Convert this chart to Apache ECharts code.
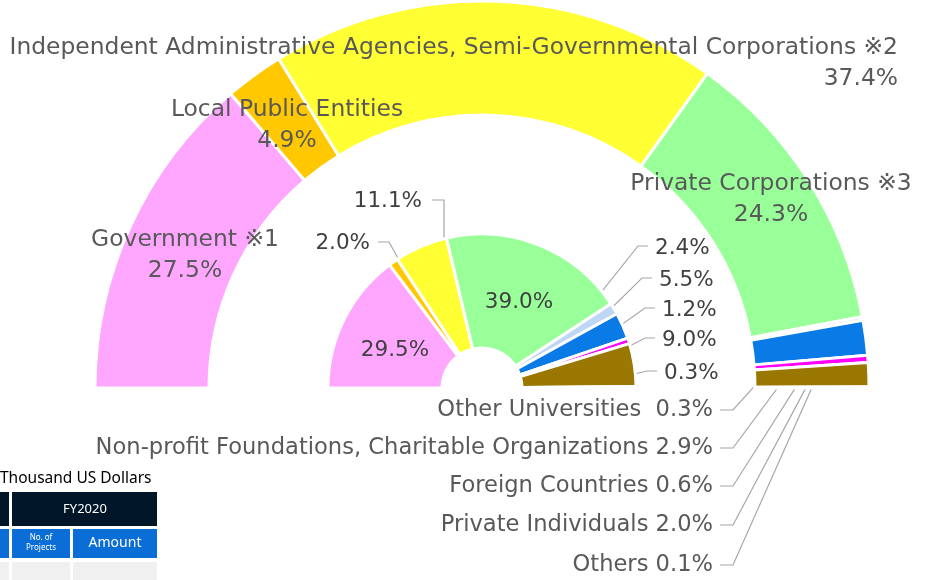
<!DOCTYPE html>
<html>
<head>
<meta charset="utf-8">
<script src="https://cdn.jsdelivr.net/npm/echarts@6/dist/echarts.min.js"></script>
<style>
  html, body { margin: 0; padding: 0; background: #fff; }
  #main { width: 928px; height: 580px; }
</style>
</head>
<body>
<div id="main"></div>
<script>
// slice names (outer ring = share of amount, inner pie = share of projects)
var sliceNames = [
    'Government ※1',
    'Local Public Entities',
    'Independent Administrative Agencies, Semi-Governmental Corporations ※2',
    'Private Corporations ※3',
    'Other Universities ',
    'Non-profit Foundations, Charitable Organizations',
    'Foreign Countries',
    'Private Individuals',
    'Others'
];
var outerValues = [27.5, 4.9, 37.4, 24.3, 0.3, 2.9, 0.6, 2.0, 0.1];
var innerValues = [29.5, 2.0, 11.1, 39.0, 2.4, 5.5, 1.2, 9.0, 0.3];
var sliceColors = ['#FFA6FF', '#FFC800', '#FFFF33', '#99FF99', '#BDD7F5', '#0A7AE6', '#FF00FF', '#997700', '#7F7F7F'];

// layout
var CX = 482, CY = 388;
var FONT = '"DejaVu Sans", "Noto Sans CJK JP", sans-serif';

// label anchors: [x, y, align]
var outerLabelPos = [
    [185, 255, 'center'], [287, 125, 'center'], [898, 63, 'right'], [771, 199, 'center'],
    [713, 410, 'right'], [713, 448, 'right'], [713, 486, 'right'], [713, 525, 'right'], [713, 565, 'right']
];
var innerLabelPos = [
    [395, 350, 'center'], [370, 243, 'right'], [422, 201, 'right'], [519, 302, 'center'],
    [655, 248, 'left'], [659, 280, 'left'], [662, 310, 'left'], [662, 340, 'left'], [664, 373, 'left']
];

// point in the middle of slice i, at radius r
function slicePoint(values, i, r) {
    var total = 0, before = 0;
    for (var k = 0; k < values.length; k++) {
        total += values[k];
        if (k < i) before += values[k];
    }
    var a = Math.PI * (before + values[i] / 2) / total;
    return [CX - r * Math.cos(a), CY - r * Math.sin(a)];
}

function pct(v) {
    return v.toFixed(1) + '%';
}

var myChart = echarts.init(document.getElementById('main'));

var outerData = [];
var innerData = [];
for (var i = 0; i < sliceNames.length; i++) {
    outerData.push({
        name: sliceNames[i],
        value: outerValues[i],
        itemStyle: { color: sliceColors[i] },
        label: { position: i < 4 ? 'inside' : 'outside', fontSize: i < 4 ? 23.4 : 22.6 },
        labelLine: { show: i >= 4 }
    });
    innerData.push({
        name: sliceNames[i],
        value: innerValues[i],
        itemStyle: { color: sliceColors[i] },
        label: { position: (i == 0 || i == 3) ? 'inside' : 'outside' },
        labelLine: { show: !(i == 0 || i == 3) }
    });
}

var option = {
    animation: false,
    series: [{
            name: 'Amount',
            type: 'pie',
            silent: true,
            center: [CX, CY],
            radius: [273, 387],
            startAngle: 180,
            endAngle: 0,
            itemStyle: { borderColor: '#fff', borderWidth: 3 },
            label: {
                show: true,
                overflow: 'none',
                fontFamily: FONT,
                fontSize: 23.4,
                lineHeight: 31,
                color: '#595959',
                formatter: function(p) {
                    if (p.dataIndex < 4) return p.name + '\n' + pct(p.value);
                    return p.name + ' ' + pct(p.value);
                }
            },
            labelLine: { lineStyle: { color: '#A6A6A6', width: 1.2 } },
            labelLayout: function(p) {
                var pos = outerLabelPos[p.dataIndex];
                var res = { x: pos[0], y: pos[1], align: pos[2], verticalAlign: 'middle' };
                if (p.dataIndex >= 4) {
                    res.labelLinePoints = [slicePoint(outerValues, p.dataIndex, 330), [733, pos[1]], [720, pos[1]]];
                }
                return res;
            },
            data: outerData
        },
        {
            name: 'Projects',
            type: 'pie',
            silent: true,
            center: [CX, CY],
            radius: [40, 154],
            startAngle: 180,
            endAngle: 0,
            itemStyle: { borderColor: '#fff', borderWidth: 3 },
            label: {
                show: true,
                overflow: 'none',
                fontFamily: FONT,
                fontSize: 21.5,
                color: '#404040',
                formatter: function(p) {
                    return pct(p.value);
                }
            },
            labelLine: { lineStyle: { color: '#A6A6A6', width: 1.2 } },
            labelLayout: function(p) {
                var i = p.dataIndex;
                var pos = innerLabelPos[i];
                var res = { x: pos[0], y: pos[1], align: pos[2], verticalAlign: 'middle' };
                var sp = slicePoint(innerValues, i, 96);
                if (i == 1) {
                    res.labelLinePoints = [sp, [389, pos[1] - 1], [378, pos[1] - 1]];
                } else if (i == 2) {
                    res.labelLinePoints = [sp, [sp[0], pos[1] - 1], [432, pos[1] - 1]];
                } else if (i >= 4) {
                    res.labelLinePoints = [sp, [pos[0] - 17, pos[1] - 2], [pos[0] - 7, pos[1] - 2]];
                }
                return res;
            },
            data: innerData
        }
    ],
    // fragment of the table that overlaps the bottom-left corner
    graphic: [
        { type: 'text', left: 0, top: 471, style: { text: 'Thousand US Dollars', fill: '#000', font: '15.5px "Noto Sans", sans-serif' } },
        { type: 'rect', shape: { x: -2, y: 492, width: 11, height: 34 }, style: { fill: '#011629' } },
        { type: 'rect', shape: { x: 12, y: 492, width: 145, height: 34 }, style: { fill: '#011629' } },
        { type: 'text', x: 85, y: 509, style: { text: 'FY2020', fill: '#fff', align: 'center', verticalAlign: 'middle', font: '13px "Noto Sans", sans-serif' } },
        { type: 'rect', shape: { x: -2, y: 529, width: 11, height: 29 }, style: { fill: '#0A6ED6' } },
        { type: 'rect', shape: { x: 12, y: 529, width: 58, height: 29 }, style: { fill: '#0A6ED6' } },
        { type: 'rect', shape: { x: 73, y: 529, width: 84, height: 29 }, style: { fill: '#0A6ED6' } },
        { type: 'text', x: 41, y: 543, style: { text: 'No. of\nProjects', fill: '#fff', align: 'center', verticalAlign: 'middle', lineHeight: 10, font: '8px "Noto Sans", sans-serif' } },
        { type: 'text', x: 115, y: 543, style: { text: 'Amount', fill: '#fff', align: 'center', verticalAlign: 'middle', font: '14px "Noto Sans", sans-serif' } },
        { type: 'rect', shape: { x: -2, y: 562, width: 11, height: 20 }, style: { fill: '#F0F0F0' } },
        { type: 'rect', shape: { x: 12, y: 562, width: 58, height: 20 }, style: { fill: '#F0F0F0' } },
        { type: 'rect', shape: { x: 73, y: 562, width: 84, height: 20 }, style: { fill: '#F0F0F0' } }
    ]
};

myChart.setOption(option);
</script>
</body>
</html>
